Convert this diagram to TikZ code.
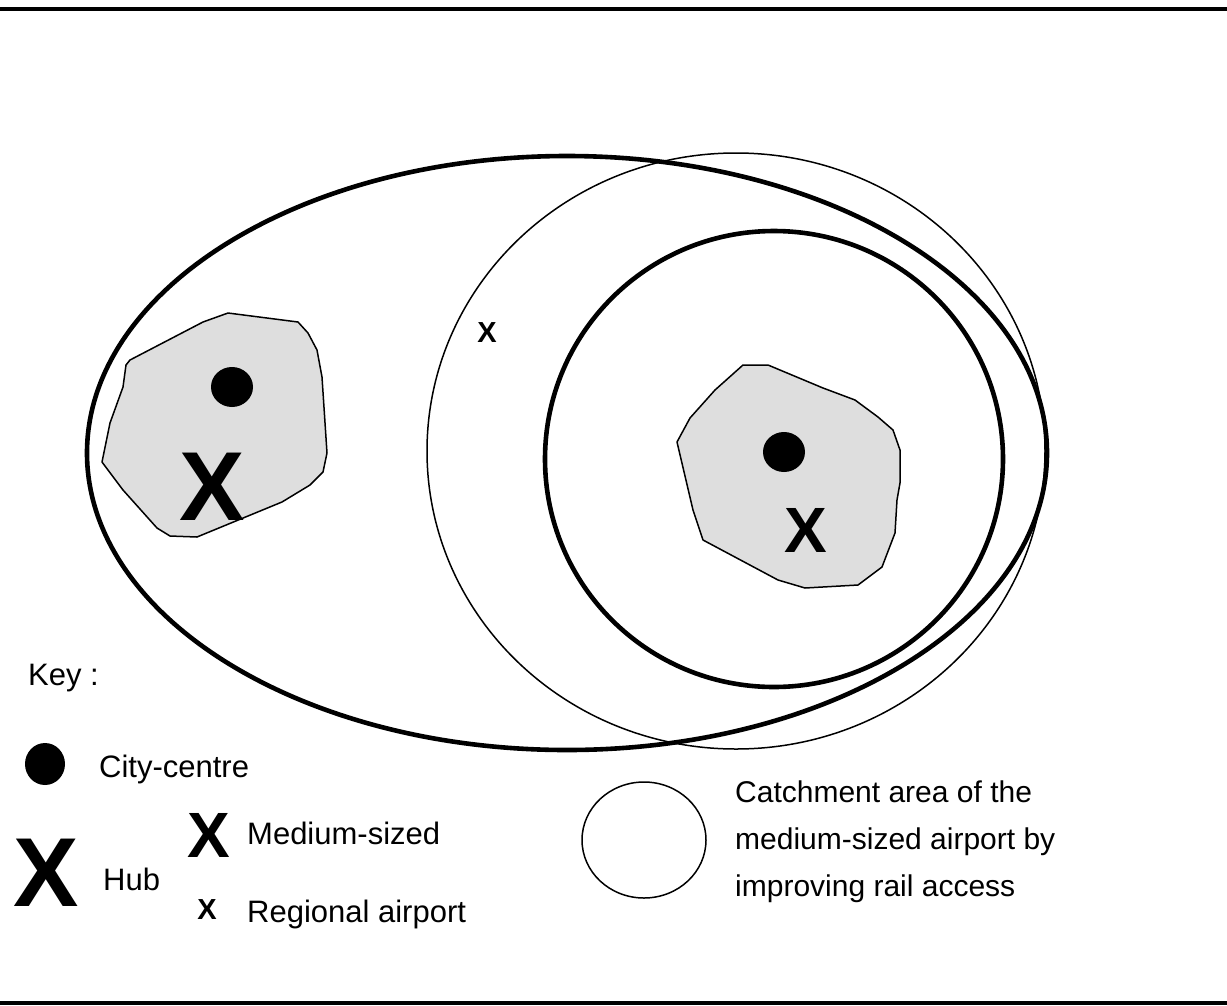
\documentclass[tikz,border=0pt]{standalone}
\usepackage{fontspec}
\setmainfont{Liberation Sans}
\begin{document}
\begin{tikzpicture}[x=1pt, y=-1pt,
    ring/.style={line width=4.6pt},
    thinring/.style={line width=1.5pt},
    urban/.style={draw, line width=1.5pt, fill=urbanarea, line join=round},
    airport/.style={inner sep=0pt, font=\fontsize{#1}{#1}\selectfont\bfseries},
    keytext/.style={anchor=base west, inner sep=0pt, font=\fontsize{31}{36}\selectfont}]
  % Define colors
  \colorlet{urbanarea}{black!13}

  % Frame
  \useasboundingbox (0,0) rectangle (1227,1005);
  \draw[line width=4pt] (0,8.5) -- (1227,8.5);
  \draw[line width=4pt] (0,1003) -- (1227,1003);

  % Catchment areas
  \draw[ring] (567,453) ellipse [x radius=480pt, y radius=297pt];
  \draw[thinring] (736,451) ellipse [x radius=309pt, y radius=298pt];
  \draw[ring] (774,459) ellipse [x radius=229pt, y radius=228pt];

  % Urban areas
  \draw[urban] (126,365) -- (130,360) -- (203,322) -- (228,313) -- (298,322)
    -- (308,333) -- (317,350) -- (322,377) -- (327,453) -- (323,472) -- (310,485)
    -- (282,502) -- (197,537) -- (170,536) -- (157,528) -- (123,490) -- (102,462)
    -- (110,423) -- (123,387) -- cycle;
  \draw[urban] (743,365) -- (768,365) -- (823,388) -- (855,400) -- (878,417)
    -- (893,430) -- (900,450) -- (900,483) -- (897,500) -- (895,533) -- (882,567)
    -- (858,585) -- (805,588) -- (778,580) -- (703,540) -- (693,510) -- (677,442)
    -- (690,418) -- (715,390) -- cycle;

  % City centres
  \fill (232,387) ellipse [x radius=21pt, y radius=20pt];
  \fill (784,452) ellipse [x radius=21pt, y radius=20pt];

  % Airports
  \node[airport=98] (hub) at (212,487) {X};
  \node[airport=64] (medium) at (806,530) {X};
  \node[airport=29] (regional) at (487,333) {X};

  % Key
  \node[keytext] (keytitle) at (28,685) {Key :};
  \fill (45,764) ellipse [x radius=20pt, y radius=21pt];
  \node[keytext] (keycity) at (99,777) {City-centre};
  \node[airport=98] (keyhub) at (46,873) {X};
  \node[keytext] (keyhubtext) at (103,890) {Hub};
  \node[airport=64] (keymedium) at (209,835) {X};
  \node[keytext] (keymediumtext) at (247,844) {Medium-sized};
  \node[airport=29] (keyregional) at (207,910) {X};
  \node[keytext] (keyregionaltext) at (247,922) {Regional airport};
  \draw[thinring] (644,840) ellipse [x radius=62pt, y radius=58pt];
  \node[keytext, anchor=west, align=left, font=\fontsize{30}{47}\selectfont]
    (keycatchment) at (735,842) {Catchment area of the\\medium-sized airport by\\improving rail access};
\end{tikzpicture}
\end{document}
